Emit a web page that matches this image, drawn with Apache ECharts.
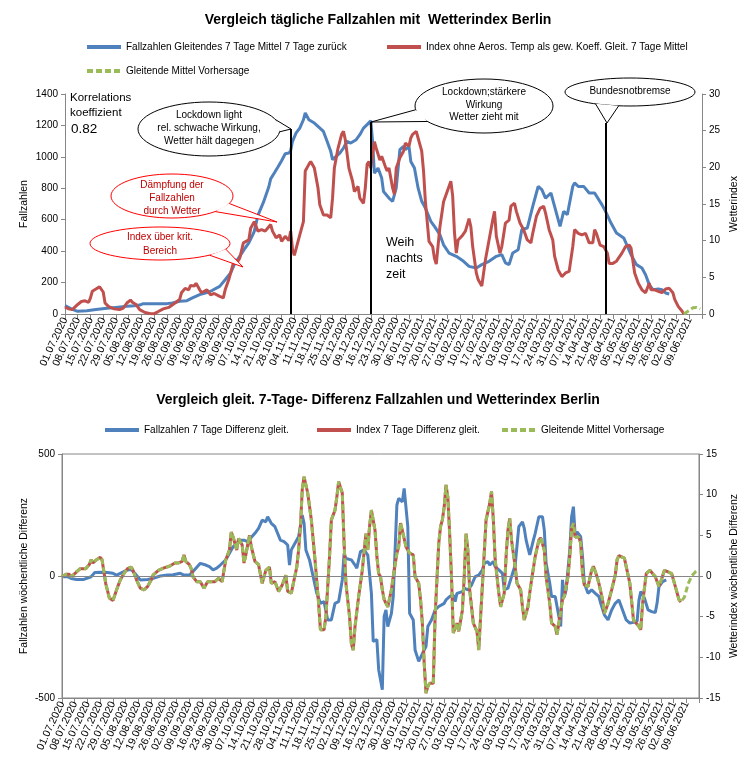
<!DOCTYPE html>
<html><head><meta charset="utf-8">
<script src="https://cdn.jsdelivr.net/npm/echarts@6/dist/echarts.min.js"></script>
<style>html,body{margin:0;padding:0;background:#fff}#c{width:756px;height:762px}</style>
</head><body><div id="c"></div>
<script>
// ---------- tick labels (one per week, day 0 = 01.07.2020) ----------
const weekLabels = ['01.07.2020','08.07.2020','15.07.2020','22.07.2020','29.07.2020','05.08.2020','12.08.2020','19.08.2020','26.08.2020','02.09.2020','09.09.2020','16.09.2020','23.09.2020','30.09.2020','07.10.2020','14.10.2020','21.10.2020','28.10.2020','04.11.2020','11.11.2020','18.11.2020','25.11.2020','02.12.2020','09.12.2020','16.12.2020','23.12.2020','30.12.2020','06.01.2021','13.01.2021','20.01.2021','27.01.2021','03.02.2021','10.02.2021','17.02.2021','24.02.2021','03.03.2021','10.03.2021','17.03.2021','24.03.2021','31.03.2021','07.04.2021','14.04.2021','21.04.2021','28.04.2021','05.05.2021','12.05.2021','19.05.2021','26.05.2021','02.06.2021','09.06.2021'];

// ---------- top chart ----------
const caseDays = [0,4,7,12,17,23,28,34,38,41,43,48,56,59,63,67,70,74,79,81,85,88,91,93,96,99,101,103,104,106,109,112,113,115,117,119,121,123,124,125,127,129,131,132,134,135,137,139,142,144,146,147,149,151,153,155,157,160,162,164,166,168,169,170,172,174,175,178,180,182,184,186,187,189,190,192,194,196,198,201,203,206,208,211,215,219,222,226,229,233,237,240,242,244,246,249,251,254,257,259,260,262,264,267,269,272,274,276,279,280,282,285,288,291,295,297,300,303,307,309,311,314,317,319,321,323,326,328,330,332];
const caseVals = [53,30,17,21,28,36,42,49,53,57,66,66,66,70,81,85,102,123,140,151,176,218,261,314,367,420,452,500,526,628,710,810,860,897,935,975,1020,1024,1040,1099,1152,1183,1236,1279,1236,1236,1215,1194,1162,1099,1035,982,1003,1024,1056,1099,1088,1109,1141,1183,1205,1230,1099,897,929,865,780,738,717,802,1046,1067,1046,1067,971,929,802,717,674,590,558,505,440,388,367,335,303,293,314,335,367,378,325,314,388,409,537,547,685,770,812,791,738,770,685,558,653,632,812,834,812,812,770,770,696,653,579,515,484,431,378,314,293,250,187,155,159,155,134,127];

const indexDays = [0,2,4,5,7,9,11,13,14,15,17,19,20,21,22,24,27,30,32,34,36,37,39,41,44,47,49,51,54,57,58,61,63,64,66,68,69,71,72,74,75,78,80,82,85,87,88,90,92,93,95,96,98,101,102,104,106,108,110,112,113,114,116,118,119,121,123,124,125,126,127,129,131,132,134,135,137,139,140,142,144,146,147,148,150,152,153,154,156,158,159,161,162,164,165,166,167,168,169,170,171,173,174,176,177,178,180,181,182,184,186,187,189,190,191,193,194,196,197,198,200,202,203,204,206,208,210,212,213,214,215,216,218,220,222,223,224,226,227,229,231,233,235,236,237,239,240,242,244,245,247,248,250,252,254,256,257,259,261,263,264,266,268,269,271,273,275,277,279,280,282,284,286,288,290,291,292,294,296,298,299,301,303,306,308,310,311,313,315,317,319,321,322,324,326,328,330,332,334,335,337,339,340];
const indexVals = [0.95,0.7,0.6,0.8,1.3,1.7,1.8,1.6,2.2,3.1,3.4,3.7,3.6,3.0,1.5,1.0,0.7,0.6,0.8,1.5,1.9,1.6,1.3,0.6,0.2,0.05,0.05,0.3,0.7,0.9,1.1,1.6,2.0,2.9,3.5,3.3,3.9,3.8,4.2,3.3,2.9,3.3,2.6,2.8,2.4,2.2,3.3,4.7,6.5,7.4,7.2,7.6,9.7,10.1,11.7,12.6,11.3,11.5,11.3,11.9,12.2,11.3,10.4,10.8,9.9,10.6,10.0,11.3,8.8,8.0,7.9,10.8,12.6,19.5,20.4,20.8,19.9,17.2,14.9,13.5,13.5,13.1,15.8,19.9,22.6,24.5,24.9,23.8,19.9,18.1,16.7,17.4,15.8,15.1,17.2,20.4,20.8,19.9,21.9,23.5,22.6,21.0,21.5,20.1,19.5,19.9,17.2,16.3,19.9,21.3,22.2,23.3,22.9,24.0,24.5,24.9,24.0,22.2,19.5,15.4,9.9,9.2,7.6,6.8,11.9,15.3,16.7,18.1,16.1,11.1,8.3,10.1,10.6,11.3,13.0,11.9,9.2,5.6,4.7,3.8,7.4,10.1,12.8,14.0,10.6,8.3,9.2,12.4,12.8,14.7,15.1,14.0,12.4,11.5,10.1,9.7,11.0,13.3,14.4,14.7,13.8,11.5,10.1,7.9,6.0,5.1,5.6,5.8,9.2,11.5,11.0,10.8,11.0,9.7,9.7,11.5,11.0,9.4,9.2,8.3,6.9,6.9,7.2,8.3,9.2,9.4,9.0,5.6,4.2,3.3,2.9,4.2,3.3,3.3,3.1,2.9,3.4,3.5,2.9,2.0,1.0,0.4,0.0];

const forecastDays = [340,341,343,345,347,349];
const forecastVals = [0.0,0.1,0.5,0.85,0.9,0.7];

// event lines (day, height on left axis)
const eventDays = [124,168,297];
const eventTops = [1177,1222,1215];

// ---------- bottom chart ----------
const caseDiffDays = [0,3,5,8,12,16,18,21,25,28,30,32,36,38,40,43,47,50,54,58,61,65,67,70,72,76,79,81,83,85,87,90,92,94,96,98,100,102,103,106,108,110,112,113,115,117,118,120,122,124,125,126,128,130,132,133,134,136,138,140,142,144,145,146,148,150,152,154,155,156,159,161,162,164,166,168,170,171,173,174,176,177,178,179,181,182,184,185,187,188,189,190,191,193,194,196,197,199,200,201,203,205,207,210,211,213,215,216,217,220,221,223,225,227,229,231,232,234,235,237,238,240,242,243,245,247,249,251,253,254,255,256,257,259,260,262,264,265,266,268,269,271,273,274,275,276,277,279,280,281,282,283,285,286,287,289,291,293,295,296,298,300,302,304,306,308,310,312,314,316,317,318,320,322,324,326,327,328,330,332];
const caseDiffVals = [-3,-3,-10,-14,-14,-3,14,15,14,11,4,11,25,27,11,-16,-14,-10,0,4,5,11,4,4,18,52,45,38,25,32,45,66,93,120,134,147,147,141,147,175,195,229,222,243,216,202,209,147,141,127,45,107,134,161,250,216,107,66,-3,-71,-112,-105,-98,-180,-180,-112,-105,-16,93,72,66,45,32,100,107,86,-71,-268,-261,-384,-466,-166,-139,-207,-153,-84,291,318,304,359,359,202,-153,-180,-303,-350,-357,-303,-289,-207,-180,-139,-125,-112,-98,-84,-78,-105,-71,-64,-50,-57,-37,-3,4,25,52,59,45,59,38,25,11,-57,-50,-3,45,202,222,195,147,141,86,147,175,243,243,188,52,-30,-84,-84,-166,-207,-16,-84,-57,107,243,284,161,181,161,79,-30,-71,-57,-71,-84,-112,-159,-180,-139,-112,-98,-139,-180,-193,-190,-185,-100,-64,-90,-139,-146,-150,-110,-44,-23,-16];

const indexDiffDays = [0,2,4,5,7,10,13,15,16,17,19,21,22,24,26,28,30,32,34,36,38,39,41,43,45,47,49,50,53,56,59,60,62,64,66,67,68,70,71,72,74,76,78,80,82,84,86,88,89,90,92,93,94,96,97,99,100,101,103,104,106,108,110,111,112,114,115,117,118,119,121,122,123,124,126,127,129,130,131,132,133,134,135,137,139,141,142,144,145,147,148,150,151,152,154,155,156,158,159,160,161,163,165,166,167,168,169,170,172,173,174,175,176,177,179,181,182,184,185,186,187,189,190,191,193,194,196,197,198,199,200,201,202,204,205,207,208,209,210,211,212,213,214,215,217,218,220,221,222,223,224,226,228,229,230,232,233,235,236,237,238,240,241,243,244,245,246,247,249,250,252,253,254,256,257,258,260,262,263,265,266,268,269,271,272,273,275,276,278,279,280,281,282,284,285,286,287,289,291,292,294,295,297,298,300,302,304,305,306,309,310,312,314,317,318,319,321,323,326,328,329,331,333,335,337,339,340];
const indexDiffVals = [-0.1,0.2,0.2,-0.1,0.3,0.9,0.9,1.4,2.0,1.6,2.0,2.3,2.0,-0.9,-2.7,-3.0,-1.7,-0.5,0.3,0.9,1.1,0.7,-0.5,-1.5,-1.7,-1.3,-0.5,0.1,0.7,1.0,1.2,1.4,1.6,1.6,1.8,2.6,1.8,1.4,0.9,-0.1,-0.7,-0.7,-1.5,-0.7,-0.7,-0.7,-0.3,-0.7,0.7,2.0,3.2,5.4,4.8,3.2,4.6,3.8,1.6,2.6,5.0,3.6,1.8,1.4,-0.9,-1.1,0.7,1.1,-0.9,-0.7,-1.3,-1.9,-1.1,-1.3,0.1,-1.9,-2.1,-1.9,1.1,3.2,6.0,10.6,12.2,12.0,10.2,6.9,2.0,-3.4,-6.6,-6.6,-5.0,2.4,6.9,8.1,9.7,11.6,10.2,4.0,-0.9,-5.0,-8.3,-9.1,-6.2,-2.5,0.7,3.0,5.2,3.2,6.1,8.1,5.6,2.4,0.3,-0.1,-1.7,-2.9,-3.8,-1.7,-0.1,2.8,3.6,6.5,5.6,3.6,3.6,2.8,2.6,-0.1,-0.9,-2.9,-5.8,-10.7,-14.4,-13.6,-13.2,-13.2,-5.0,4.0,6.1,6.9,8.5,11.2,9.7,5.2,-0.1,-7.0,-5.8,-6.8,-4.2,-0.1,5.2,3.2,-1.7,-5.8,-6.8,-9.1,-5.0,2.8,6.9,8.9,10.4,6.9,2.0,-2.1,-3.8,-2.1,2.4,5.6,7.1,4.4,1.1,-0.9,-1.7,-3.8,-5.4,-3.8,-2.1,-0.5,2.4,4.4,4.7,3.2,-0.1,-3.4,-5.8,-6.2,-7.2,-5.8,-2.9,-2.5,-0.1,2.4,5.9,6.5,4.8,4.8,4.0,0.3,-1.1,-1.3,0.7,1.2,-0.1,-0.9,-2.9,-4.6,-3.4,-1.7,0.1,2.0,2.5,2.2,2.0,-0.9,-5.4,-6.2,-6.6,-3.4,0.3,0.7,-0.1,-1.3,-0.7,0.7,0.5,0.3,-1.3,-2.9,-3.2];

const forecastDiffDays = [342,344,346,348,349];
const forecastDiffVals = [-2.6,-1.0,0.0,0.5,0.7];

// ---------- build ----------
const zip = (d, v) => d.map((x, i) => [x, v[i]]);
const BLUE = '#4F81BD', RED = '#C0504D', GREEN = '#9BBB59', AXIS = '#868686';
const F = "'Liberation Sans', Arial, sans-serif";
const nCase = 'Fallzahlen Gleitendes 7 Tage Mittel 7 Tage zurück';
const nIndex = 'Index ohne Aeros. Temp als gew. Koeff. Gleit. 7 Tage Mittel';
const nFc = 'Gleitende Mittel Vorhersage';
const nCaseDiff = 'Fallzahlen 7 Tage Differenz gleit.';
const nIndexDiff = 'Index 7 Tage Differenz gleit.';

function xAxisCfg(g) {
  return {
    type: 'value', gridIndex: g, min: 0, max: 350, interval: 7,
    axisLine: { show: true, onZero: false, lineStyle: { color: AXIS, width: 1 } },
    axisTick: { show: true, length: 5, lineStyle: { color: AXIS } },
    splitLine: { show: false },
    axisLabel: { rotate: 65, fontSize: 10.5, fontFamily: F, color: '#000', margin: 4,
      formatter: v => weekLabels[Math.round(v / 7)] || '' }
  };
}
function yAxisCfg(g, pos, min, max, interval, name, gap) {
  return {
    type: 'value', gridIndex: g, position: pos, min, max, interval,
    name, nameLocation: 'middle', nameGap: gap, nameRotate: 90, nameMoveOverlap: false,
    nameTextStyle: { fontSize: 10.5, fontFamily: F, color: '#000' },
    axisLine: { show: true, lineStyle: { color: AXIS } },
    axisTick: { show: true, length: 4, lineStyle: { color: AXIS } },
    splitLine: { show: false },
    axisLabel: { fontSize: 10, fontFamily: F, color: '#000', margin: 7, formatter: v => String(v) }
  };
}
function leg(name, left, top) {
  return { data: [name], left, top, padding: 0, itemWidth: 34, itemHeight: 10, selectedMode: false,
    itemStyle: { opacity: 0 }, lineStyle: { width: 4 },
    textStyle: { fontSize: 10, fontFamily: F, color: '#000' } };
}
function callout(cx, cy, rx, ry, t1, t2, tip, stroke, lines, ys, color) {
  const p = t => [cx + rx * Math.cos(t * Math.PI / 180), cy + ry * Math.sin(t * Math.PI / 180)];
  const b1 = p(t1), b2 = p(t2);
  const els = [
    { type: 'ellipse', z: 100, shape: { cx, cy, rx, ry }, style: { fill: '#fff', stroke, lineWidth: 1 } },
    { type: 'polygon', z: 101, shape: { points: [b1, tip, b2] }, style: { fill: '#fff', stroke: null } },
    { type: 'polyline', z: 102, shape: { points: [b1, tip, b2] }, style: { fill: null, stroke, lineWidth: 1 } }
  ];
  lines.forEach((t, i) => els.push({ type: 'text', z: 103, x: cx, y: ys[i],
    style: { text: t, fill: color, font: '10px ' + F, textAlign: 'center', textVerticalAlign: 'middle', align: 'center', verticalAlign: 'middle' } }));
  return els;
}
function txt(t, x, y, size) {
  return { type: 'text', z: 103, x, y, style: { text: t, fill: '#000', font: size + 'px ' + F,
    textAlign: 'left', textVerticalAlign: 'middle', align: 'left', verticalAlign: 'middle' } };
}

const graphics = [].concat(
  callout(209, 129, 71, 27, -20, 6, [291, 129], '#000', ['Lockdown light', 'rel. schwache Wirkung,', 'Wetter hält dagegen'], [115, 128, 141], '#000'),
  callout(172, 196, 61, 22, 20, 45, [277, 222], '#FF0000', ['Dämpfung der', 'Fallzahlen', 'durch Wetter'], [185, 198, 211], '#C00000'),
  callout(160, 243.5, 70, 16.5, 20, 45, [243, 267], '#FF0000', ['Index über krit.', 'Bereich'], [237, 251], '#C00000'),
  callout(484, 106, 69, 27, 145, 172, [371, 122], '#000', ['Lockdown;stärkere', 'Wirkung', 'Wetter zieht mit'], [92, 105, 117], '#000'),
  callout(630, 92, 65, 14, 100, 122, [607, 123], '#000', ['Bundesnotbremse'], [91], '#000'),
  [txt('Korrelations', 70, 98, 11.5), txt('koeffizient', 70, 113, 11.5), txt('0.82', 71, 129, 13.5),
   txt('Weih', 386, 243, 12.5), txt('nachts', 386, 259, 12.5), txt('zeit', 386, 275, 12.5)]
);

const chart = echarts.init(document.getElementById('c'), null, { renderer: 'canvas' });
chart.setOption({
  animation: false,
  backgroundColor: '#fff',
  title: [
    { text: 'Vergleich tägliche Fallzahlen mit  Wetterindex Berlin', left: 'center', top: 8,
      textStyle: { fontSize: 14, fontWeight: 'bold', fontFamily: F, color: '#000' } },
    { text: 'Vergleich gleit. 7-Tage- Differenz Fallzahlen und Wetterindex Berlin', left: 'center', top: 388,
      textStyle: { fontSize: 14, fontWeight: 'bold', fontFamily: F, color: '#000' } }
  ],
  legend: [
    leg(nCase, 85, 42), leg(nIndex, 385, 42), leg(nFc, 85, 66),
    leg(nCaseDiff, 103, 425), leg(nIndexDiff, 315, 425), leg(nFc, 500, 425)
  ],
  grid: [
    { left: 65, right: 54, top: 94, height: 220, outerBoundsMode: 'none' },
    { left: 62, right: 57, top: 454, height: 244, show: true, borderColor: AXIS, borderWidth: 1, outerBoundsMode: 'none' }
  ],
  xAxis: [xAxisCfg(0), xAxisCfg(1)],
  yAxis: [
    yAxisCfg(0, 'left', 0, 1400, 200, 'Fallzahlen', 35),
    yAxisCfg(0, 'right', 0, 30, 5, 'Wetterindex', 27),
    yAxisCfg(1, 'left', -500, 500, 500, 'Fallzahlen wöchentliche Differenz', 32),
    yAxisCfg(1, 'right', -15, 15, 5, 'Wetterindex wöchentliche Differenz', 30)
  ],
  series: [
    { name: nCase, type: 'line', xAxisIndex: 0, yAxisIndex: 0, data: zip(caseDays, caseVals),
      symbol: 'none', showSymbol: false, lineStyle: { color: BLUE, width: 3 }, itemStyle: { color: BLUE }, z: 2,
      markLine: { silent: true, symbol: ['none', 'none'], label: { show: false },
        lineStyle: { color: '#000', width: 2, type: 'solid' },
        data: eventDays.map((d, i) => [{ coord: [d, 0] }, { coord: [d, eventTops[i]] }]) } },
    { name: nIndex, type: 'line', xAxisIndex: 0, yAxisIndex: 1, data: zip(indexDays, indexVals),
      symbol: 'none', showSymbol: false, lineStyle: { color: RED, width: 3 }, itemStyle: { color: RED }, z: 3 },
    { name: nFc, type: 'line', xAxisIndex: 0, yAxisIndex: 1, data: zip(forecastDays, forecastVals),
      symbol: 'none', showSymbol: false, lineStyle: { color: GREEN, width: 3, type: [6, 3] }, itemStyle: { color: GREEN }, z: 4 },
    { name: nCaseDiff, type: 'line', xAxisIndex: 1, yAxisIndex: 2, data: zip(caseDiffDays, caseDiffVals),
      symbol: 'none', showSymbol: false, lineStyle: { color: BLUE, width: 3 }, itemStyle: { color: BLUE }, z: 2,
      markLine: { silent: true, symbol: ['none', 'none'], label: { show: false },
        lineStyle: { color: AXIS, width: 1, type: 'solid' }, data: [{ yAxis: 0 }] } },
    { name: nIndexDiff, type: 'line', xAxisIndex: 1, yAxisIndex: 3, data: zip(indexDiffDays, indexDiffVals),
      symbol: 'none', showSymbol: false, lineStyle: { color: RED, width: 3 }, itemStyle: { color: RED }, z: 3 },
    { name: nFc, type: 'line', xAxisIndex: 1, yAxisIndex: 3,
      data: zip(indexDiffDays.concat(forecastDiffDays), indexDiffVals.concat(forecastDiffVals)),
      symbol: 'none', showSymbol: false, lineStyle: { color: GREEN, width: 3, type: [6, 3] }, itemStyle: { color: GREEN }, z: 4 }
  ],
  graphic: graphics
});
</script>
</body></html>
